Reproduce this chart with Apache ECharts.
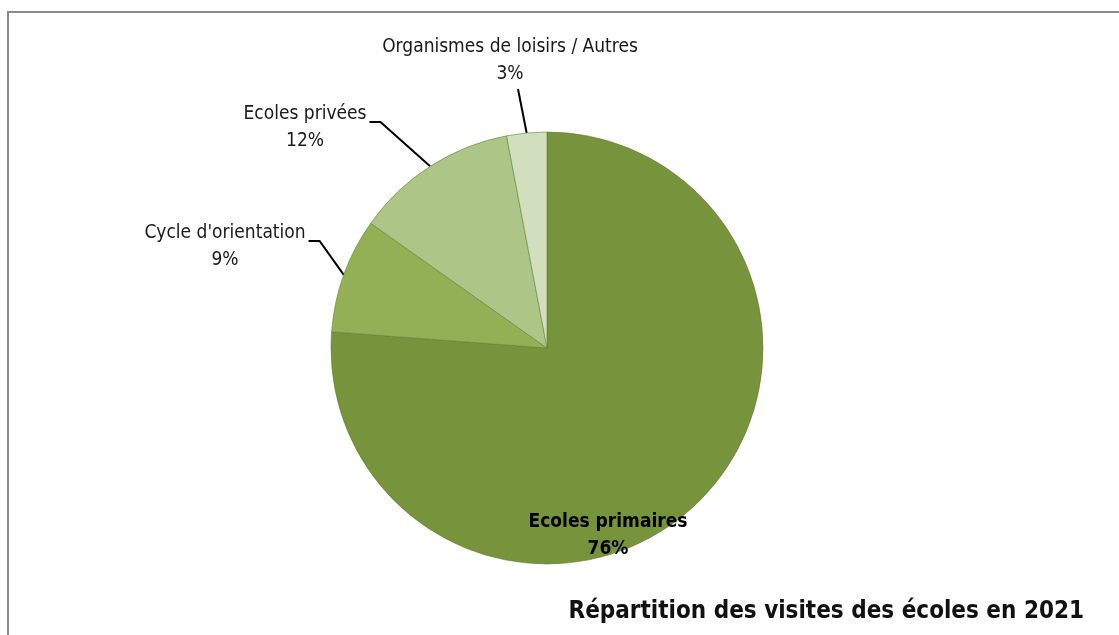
<!DOCTYPE html>
<html>
<head>
<meta charset="utf-8">
<script src="https://cdn.jsdelivr.net/npm/echarts@6/dist/echarts.min.js"></script>
<style>
  html, body { margin: 0; padding: 0; background: #fff; }
  #chart { width: 1119px; height: 635px; }
  #frame {
    position: absolute; left: 7px; top: 11px; width: 1200px; height: 700px;
    border: 2px solid #8a8a8a; pointer-events: none;
  }
</style>
</head>
<body>
<div id="chart"></div>
<div id="frame"></div>
<script>
// catégories et parts (%)
const categories = ['Ecoles primaires', "Cycle d'orientation", 'Ecoles privées', 'Organismes de loisirs / Autres']
const shares = [76.2, 8.6, 12.2, 3.0]
const sliceColors = ['#77933c', '#93b057', '#adc688', '#d2dfbf']

const FONT = "'Liberation Sans Narrow', 'Arial Narrow', 'DejaVu Sans Condensed', sans-serif"

// où poser chaque étiquette (centre du bloc de texte)
const labelSpots = [
  { x: 608, y: 536 },
  { x: 225, y: 247, side: 'right' },
  { x: 305, y: 128, side: 'right' },
  { x: 510, y: 61, side: 'bottom' }
]

let myChart = echarts.init(document.getElementById('chart'))

let option = {
  backgroundColor: '#fff',
  animation: false,
  title: {
    text: 'Répartition des visites des écoles en 2021',
    right: 30,
    top: 595,
    textStyle: { fontFamily: FONT, fontSize: 24, fontWeight: 'bold', color: '#111' }
  },
  series: [
    {
      type: 'pie',
      center: [547, 348],
      radius: 216,
      startAngle: 90,
      avoidLabelOverlap: false,
      itemStyle: { borderColor: 'rgba(95,125,45,0.55)', borderWidth: 1 },
      label: {
        show: true,
        fontFamily: FONT,
        fontSize: 19,
        lineHeight: 27,
        color: '#1a1a1a',
        align: 'center',
        formatter: (p) => p.name + '\n' + Math.round(p.percent) + '%'
      },
      labelLine: { show: true, lineStyle: { color: '#000', width: 2 } },
      labelLayout: function (params) {
        const s = labelSpots[params.dataIndex]
        const out = { x: s.x, y: s.y, align: 'center', verticalAlign: 'middle' }
        const pts = params.labelLinePoints
        if (pts && s.side) {
          const a = pts[0]
          const w = params.labelRect.width
          const h = params.labelRect.height
          if (s.side === 'right') {
            const ex = s.x + w / 2 + 3
            const ey = s.y - 6
            out.labelLinePoints = [a, [ex + 11, ey], [ex, ey]]
          } else {
            const end = [s.x + 8, s.y + h / 2 + 1]
            out.labelLinePoints = [a, [(a[0] + end[0]) / 2, (a[1] + end[1]) / 2], end]
          }
        }
        return out
      },
      data: categories.map((name, i) => {
        const item = { name: name, value: shares[i], itemStyle: { color: sliceColors[i] } }
        if (i === 0) {
          item.label = { position: 'inside', fontWeight: 'bold', color: '#000' }
          item.labelLine = { show: false }
        }
        return item
      })
    }
  ]
}

option && myChart.setOption(option)
</script>
</body>
</html>
